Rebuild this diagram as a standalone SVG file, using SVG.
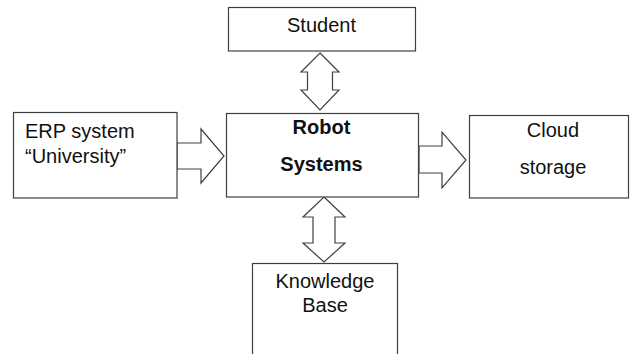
<svg xmlns="http://www.w3.org/2000/svg" width="630" height="354" viewBox="0 0 630 354">
<style>
.box{fill:#fff;stroke:#404040;stroke-width:1.2}
.arr{fill:#fff;stroke:#404040;stroke-width:1.2;stroke-linejoin:miter}
text{font-family:"Liberation Sans",Arial,sans-serif;font-size:20px;fill:#111}
.c{text-anchor:middle}
.b{font-weight:bold}
</style>
<rect width="630" height="354" fill="#fff"/>
<g id="connectors">
<polygon class="arr" points="320,53 339,72 332.5,72 332.5,90 339,90 320,110 301,90 307.5,90 307.5,72 301,72"/>
<polygon class="arr" points="324,197 345,217 335,217 335,243 345,243 324,262 303,243 313,243 313,217 303,217"/>
<polygon class="arr" points="177,143 201,143 201,129 224,156 201,183 201,169 177,169"/>
<polygon class="arr" points="419,146 442,146 442,132 466,160 442,188 442,173 419,173"/>
</g>
<g id="student">
<rect class="box" x="228.5" y="7.5" width="187" height="43.5"/>
<text class="c" x="321.5" y="32">Student</text>
</g>
<g id="robot">
<rect class="box" x="226.5" y="113.5" width="192" height="83.5"/>
<text class="c b" x="321.5" y="134">Robot</text>
<text class="c b" x="321.5" y="171">Systems</text>
</g>
<g id="erp">
<rect class="box" x="13.5" y="112.5" width="163.5" height="85.5"/>
<text x="25" y="138">ERP system</text>
<text x="25" y="163">“University”</text>
</g>
<g id="cloud">
<rect class="box" x="469.5" y="115.5" width="159" height="82.5"/>
<text class="c" x="553" y="137">Cloud</text>
<text class="c" x="553" y="174">storage</text>
</g>
<g id="knowledge">
<rect class="box" x="252.5" y="263.5" width="145" height="100"/>
<text class="c" x="325" y="288">Knowledge</text>
<text class="c" x="325" y="312">Base</text>
</g>
</svg>
